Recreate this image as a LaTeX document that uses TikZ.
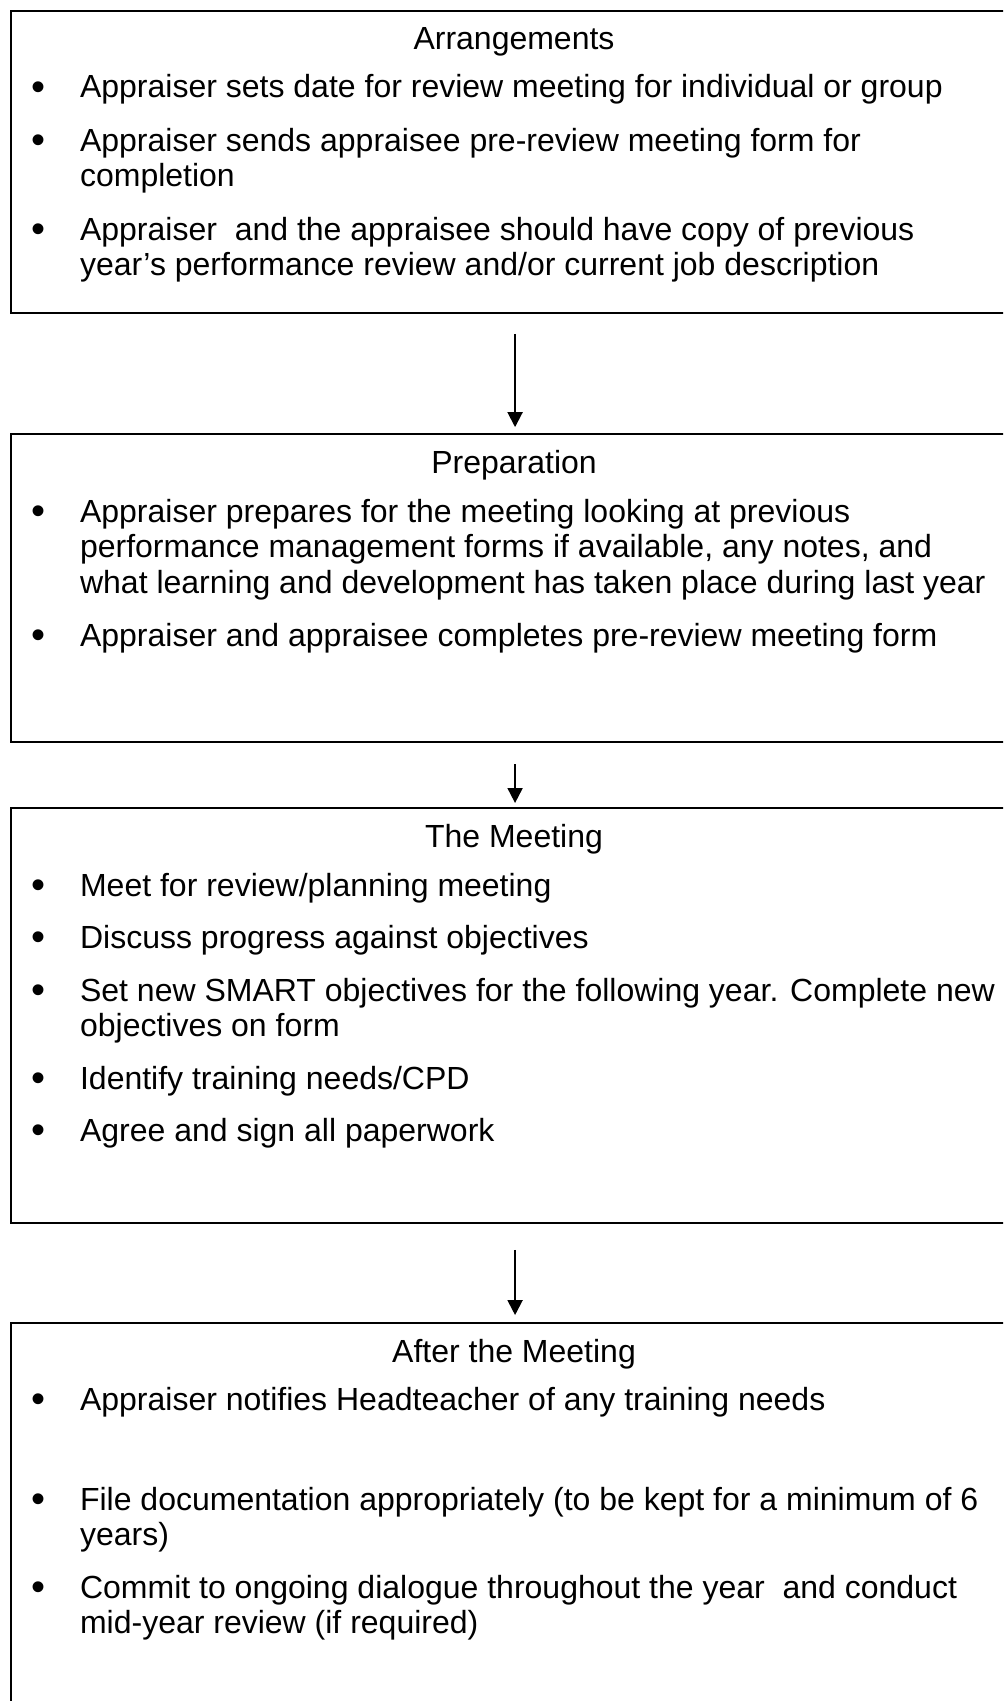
\documentclass[tikz,border=0pt]{standalone}
\usepackage{fontspec}
\setmainfont{Liberation Sans}
\usetikzlibrary{arrows.meta}
\newcommand{\bul}{\llap{\raisebox{-0.8pt}{\fontsize{15}{15}\selectfont •}\hspace{13.1pt}}}

\begin{document}
\begin{tikzpicture}[x = 0.375pt, y = -0.375pt, line width = 0.8pt,
                      stage/.style = {draw, rectangle, inner sep = 0, minimum width = 378pt, anchor = north west},
                      heading/.style = {anchor = base, inner sep = 0, font = \fontsize{12}{13.3}\selectfont},
                      entry/.style = {anchor = base west, inner sep = 0, align = left, font = \fontsize{12}{13.3}\selectfont},
                      flow/.style = {-{Triangle[length = 5.6pt, width = 5.6pt]}, line width = 0.75pt}]
    \useasboundingbox (0, 0) rectangle (1003, 1701);
    \clip (0, 0) rectangle (1003, 1701);
    % boxes
    \node [stage, minimum height = 113.1pt] (arr) at (10, 10){};
    \node [stage, minimum height = 115.5pt] (prep) at (10, 433){};
    \node [stage, minimum height = 155.6pt] (meet) at (10, 807){};
    \node [stage, minimum height = 168.8pt] (after) at (10, 1322){};
    % Arrangements (entries sit on their last line)
    \node [heading] (arrhead) at (514, 50){Arrangements};
    \node [entry] (arr1) at (79, 98){\bul Appraiser sets date for review meeting for individual or group};
    \node [entry] (arr2) at (79, 187){\bul Appraiser sends appraisee pre-review meeting form for\\completion};
    \node [entry] (arr3) at (79, 276){\bul Appraiser\ \ and the appraisee should have copy of previous\\year’s performance review and/or current job description};
    % Preparation
    \node [heading] (prephead) at (514, 473){Preparation};
    \node [entry] (prep1) at (79, 593){\bul Appraiser prepares for the meeting looking at previous\\performance management forms if available, any notes, and\\what learning and development has taken place during last year};
    \node [entry] (prep2) at (79, 646){\bul Appraiser and appraisee completes pre-review meeting form};
    % The Meeting
    \node [heading] (meethead) at (514, 847){The Meeting};
    \node [entry] (meet1) at (79, 896){\bul Meet for review/planning meeting};
    \node [entry] (meet2) at (79, 948.5){\bul Discuss progress against objectives};
    \node [entry] (meet3) at (79, 1036.5){\bul Set new SMART objectives for the following year. Complete new\\objectives on form};
    \node [entry] (meet4) at (79, 1089){\bul Identify training needs/CPD};
    \node [entry] (meet5) at (79, 1141){\bul Agree and sign all paperwork};
    % After the Meeting
    \node [heading] (afterhead) at (514, 1362){After the Meeting};
    \node [entry] (after1) at (79, 1410){\bul Appraiser notifies Headteacher of any training needs};
    \node [entry] (after2) at (79, 1545.5){\bul File documentation appropriately (to be kept for a minimum of 6\\years)};
    \node [entry] (after3) at (79, 1633.5){\bul Commit to ongoing dialogue throughout the year\ \ and conduct\\mid-year review (if required)};
    \draw [flow, shorten <= 7.6pt, shorten >= 2.2pt] (arr) -- (prep);
    \draw [flow, shorten <= 7.9pt, shorten >= 1.5pt] (prep) -- (meet);
    \draw [flow, shorten <= 9.7pt, shorten >= 2.6pt] (meet) -- (after);
    \end{tikzpicture}
\end{document}
